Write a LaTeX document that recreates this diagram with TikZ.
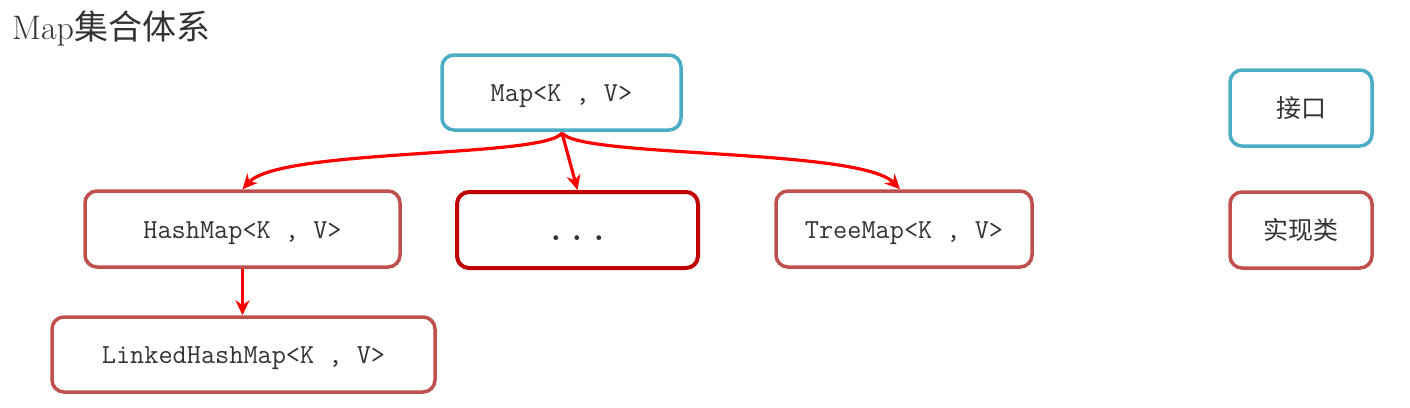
\documentclass[tikz,border=0pt]{standalone}
\usepackage{fontspec}
\newfontfamily\cjk{Noto Sans CJK SC}
\usetikzlibrary{arrows.meta}
\definecolor{ifcol}{HTML}{4BACC6}
\definecolor{clcol}{HTML}{C0504D}
\definecolor{dotcol}{HTML}{C00000}
\definecolor{txt}{HTML}{333333}
\newcommand{\lowered}[2][-4pt]{\raisebox{#1}[\height][\depth]{#2}}
\tikzset{
  box/.style={draw, line width=3.5pt, rounded corners=12pt, inner sep=0pt, text=txt,
    font=\fontsize{27.5}{30}\selectfont\ttfamily},
  ifbox/.style={box, draw=ifcol},
  clbox/.style={box, draw=clcol},
  dotbox/.style={box, draw=dotcol, line width=4pt},
  arr/.style={draw=red, line width=3.2pt, -{Stealth[length=15pt,width=14pt]}},
}
\begin{document}
\begin{tikzpicture}[x=1pt,y=-1pt]
\useasboundingbox (0,0) rectangle (1410,407);
\node[anchor=west, text=txt, inner sep=0pt] (title) at (12,28)
  {\fontsize{34}{38}\selectfont Map\cjk 集合体系};
\node[ifbox, minimum width=239pt, minimum height=75pt] (map) at (561.5,92.5) {\lowered{Map<K , V>}};
\node[clbox, minimum width=315pt, minimum height=76pt] (hash) at (242.5,229) {\lowered{HashMap<K , V>}};
\node[dotbox, minimum width=241pt, minimum height=76pt] (dots) at (577.5,230)
  {\fontsize{42}{42}\selectfont\lowered[-8pt]{...}};
\node[clbox, minimum width=256pt, minimum height=76pt] (tree) at (904,229) {\lowered{TreeMap<K , V>}};
\node[clbox, minimum width=383pt, minimum height=75pt] (linked) at (243.5,354.5) {\lowered{LinkedHashMap<K , V>}};
\node[ifbox, minimum width=142pt, minimum height=76pt, font=\fontsize{25}{30}\selectfont\cjk] (iface) at (1301,108) {接口};
\node[clbox, minimum width=142pt, minimum height=76pt, font=\fontsize{25}{30}\selectfont\cjk] (impl) at (1301,230) {实现类};
\coordinate (ms) at (562,133);
\draw[arr] (ms) .. controls (545,158) and (280,148) .. (hash.north);
\draw[arr] (ms) .. controls (580,158) and (860,148) .. (tree.north -| 900,0);
\draw[arr] (ms) -- (dots.north);
\draw[arr] (hash.south) -- (linked.north -| hash.south);
\end{tikzpicture}
\end{document}
